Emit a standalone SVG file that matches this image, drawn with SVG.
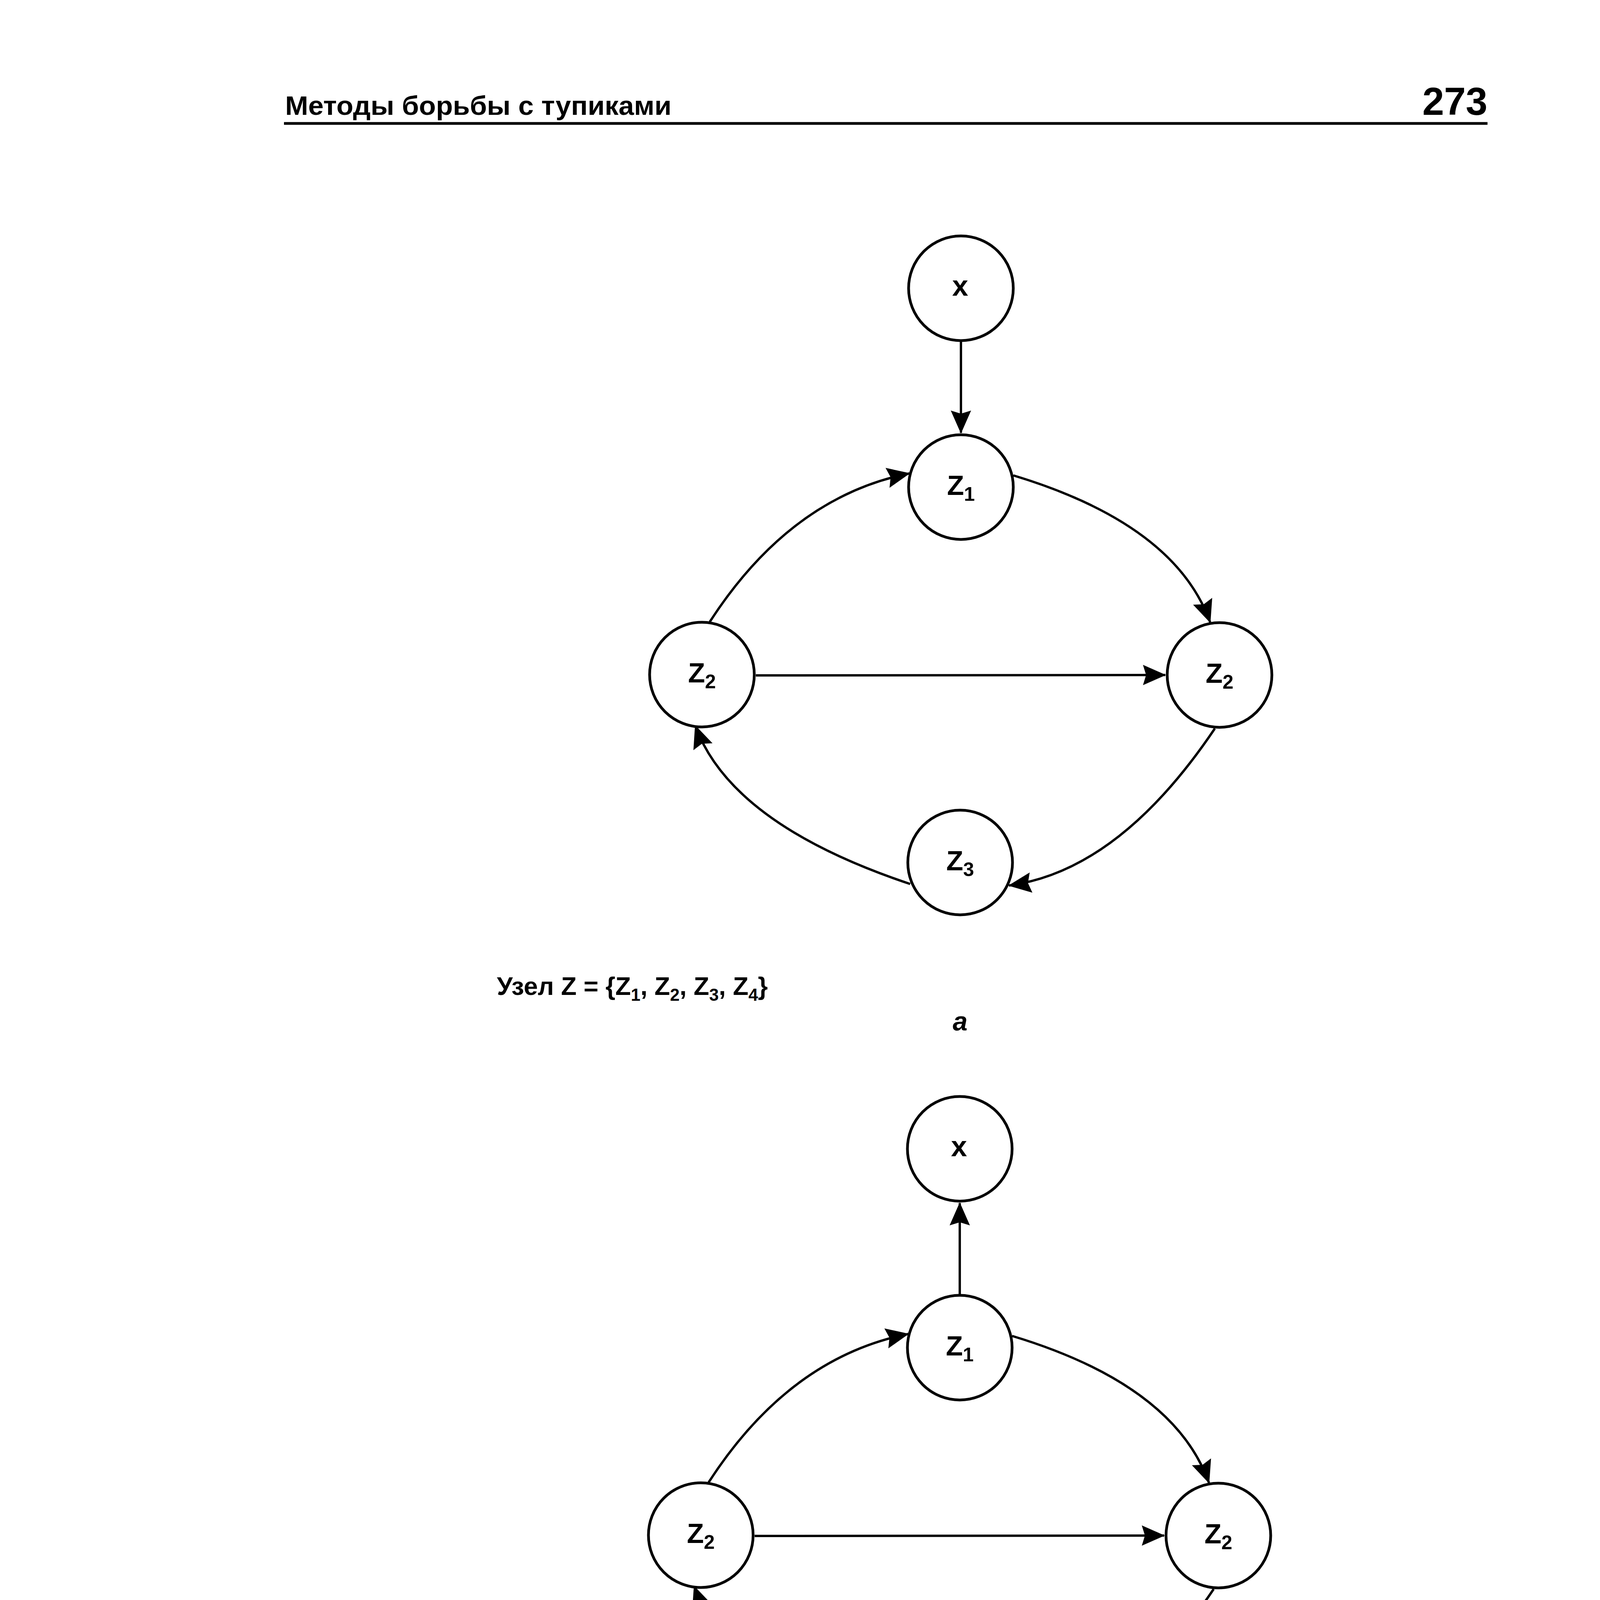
<svg xmlns="http://www.w3.org/2000/svg" width="5118" height="5354" viewBox="0 0 5118 5354">
<style>
.node{fill:#fff;stroke:#000;stroke-width:7}
.edge{fill:none;stroke:#000;stroke-width:6}
.lbl{font-family:"Liberation Sans",Arial,sans-serif;font-weight:bold;font-size:71px;text-anchor:middle;fill:#000}
.xl{font-size:74px}
.sub{font-size:50px}
.cap{font-family:"Liberation Sans",Arial,sans-serif;font-weight:bold;font-size:65px;fill:#000}
.csub{font-size:44px}
.let{font-family:"Liberation Sans",Arial,sans-serif;font-weight:bold;font-style:italic;font-size:68px;text-anchor:middle;fill:#000}
.hdr{font-family:"Liberation Sans",Arial,sans-serif;font-weight:bold;fill:#000}
</style>
<defs>
<marker id="arr" viewBox="-60 -30 64 60" refX="0" refY="0" markerWidth="64" markerHeight="60" markerUnits="userSpaceOnUse" orient="auto">
<path d="M2,0 L-57,-26 L-49,0 L-57,26 Z" fill="#000"/>
</marker>
</defs>
<rect x="0" y="0" width="5118" height="5354" fill="#fff"/>

<g id="header">
<text class="hdr" x="730" y="294" font-size="68" textLength="989" lengthAdjust="spacingAndGlyphs">Методы борьбы с тупиками</text>
<text class="hdr" x="3808" y="294" font-size="100" text-anchor="end">273</text>
<line x1="727" y1="316" x2="3808" y2="316" stroke="#000" stroke-width="7"/>
</g>

<g id="connectors">
<path class="edge" d="M2460,875 L2460,1108" marker-end="url(#arr)"/>
<path class="edge" d="M1817,1592 Q2023,1273 2328,1212" marker-end="url(#arr)"/>
<path class="edge" d="M2594,1217 Q3008,1342 3098,1593" marker-end="url(#arr)"/>
<path class="edge" d="M1935,1729 L2983,1728" marker-end="url(#arr)"/>
<path class="edge" d="M3110,1865 Q2865,2229 2583,2267" marker-end="url(#arr)"/>
<path class="edge" d="M2330,2263 Q1872,2110 1780,1858" marker-end="url(#arr)"/>

<path class="edge" d="M2457,3313 L2457,3080" marker-end="url(#arr)"/>
<path class="edge" d="M1814,3795 Q2020,3476 2325,3415" marker-end="url(#arr)"/>
<path class="edge" d="M2591,3420 Q3005,3545 3095,3796" marker-end="url(#arr)"/>
<path class="edge" d="M1932,3932 L2980,3931" marker-end="url(#arr)"/>
<path class="edge" d="M3107,4068 Q2862,4432 2580,4470" marker-end="url(#arr)"/>
<path class="edge" d="M2327,4466 Q1869,4313 1777,4061" marker-end="url(#arr)"/>
</g>

<g id="a-x"><circle class="node" cx="2460" cy="738" r="134"/><text class="lbl xl" x="2458" y="757">x</text></g>
<g id="a-z1"><circle class="node" cx="2460" cy="1247" r="134"/><text class="lbl" x="2460" y="1267">Z<tspan class="sub" dy="15">1</tspan></text></g>
<g id="a-z2-left"><circle class="node" cx="1797" cy="1727" r="134"/><text class="lbl" x="1797" y="1747">Z<tspan class="sub" dy="15">2</tspan></text></g>
<g id="a-z2-right"><circle class="node" cx="3122" cy="1728" r="134"/><text class="lbl" x="3122" y="1748">Z<tspan class="sub" dy="15">2</tspan></text></g>
<g id="a-z3"><circle class="node" cx="2458" cy="2208" r="134"/><text class="lbl" x="2458" y="2228">Z<tspan class="sub" dy="15">3</tspan></text></g>

<g id="b-x"><circle class="node" cx="2457" cy="2941" r="134"/><text class="lbl xl" x="2455" y="2960">x</text></g>
<g id="b-z1"><circle class="node" cx="2457" cy="3450" r="134"/><text class="lbl" x="2457" y="3470">Z<tspan class="sub" dy="15">1</tspan></text></g>
<g id="b-z2-left"><circle class="node" cx="1794" cy="3930" r="134"/><text class="lbl" x="1794" y="3950">Z<tspan class="sub" dy="15">2</tspan></text></g>
<g id="b-z2-right"><circle class="node" cx="3119" cy="3931" r="134"/><text class="lbl" x="3119" y="3951">Z<tspan class="sub" dy="15">2</tspan></text></g>
<g id="b-z3"><circle class="node" cx="2455" cy="4411" r="134"/><text class="lbl" x="2455" y="4431">Z<tspan class="sub" dy="15">3</tspan></text></g>

<g id="captions">
<text class="cap" x="1272" y="2547">Узел Z = {Z<tspan class="csub" dy="15">1</tspan><tspan dy="-15">, Z</tspan><tspan class="csub" dy="15">2</tspan><tspan dy="-15">, Z</tspan><tspan class="csub" dy="15">3</tspan><tspan dy="-15">, Z</tspan><tspan class="csub" dy="15">4</tspan><tspan dy="-15">}</tspan></text>
<text class="let" x="2458" y="2638">а</text>
<text class="cap" x="1270" y="4752">Цикл Z = {Z<tspan class="csub" dy="15">1</tspan><tspan dy="-15">, Z</tspan><tspan class="csub" dy="15">2</tspan><tspan dy="-15">, Z</tspan><tspan class="csub" dy="15">3</tspan><tspan dy="-15">, Z</tspan><tspan class="csub" dy="15">4</tspan><tspan dy="-15">}, но не узел</tspan></text>
<text class="let" x="2454" y="4843">б</text>
<text class="cap" x="1458" y="4952">Рис. 8.11. Узел и цикл в ориентированном графе</text>
</g>
</svg>
